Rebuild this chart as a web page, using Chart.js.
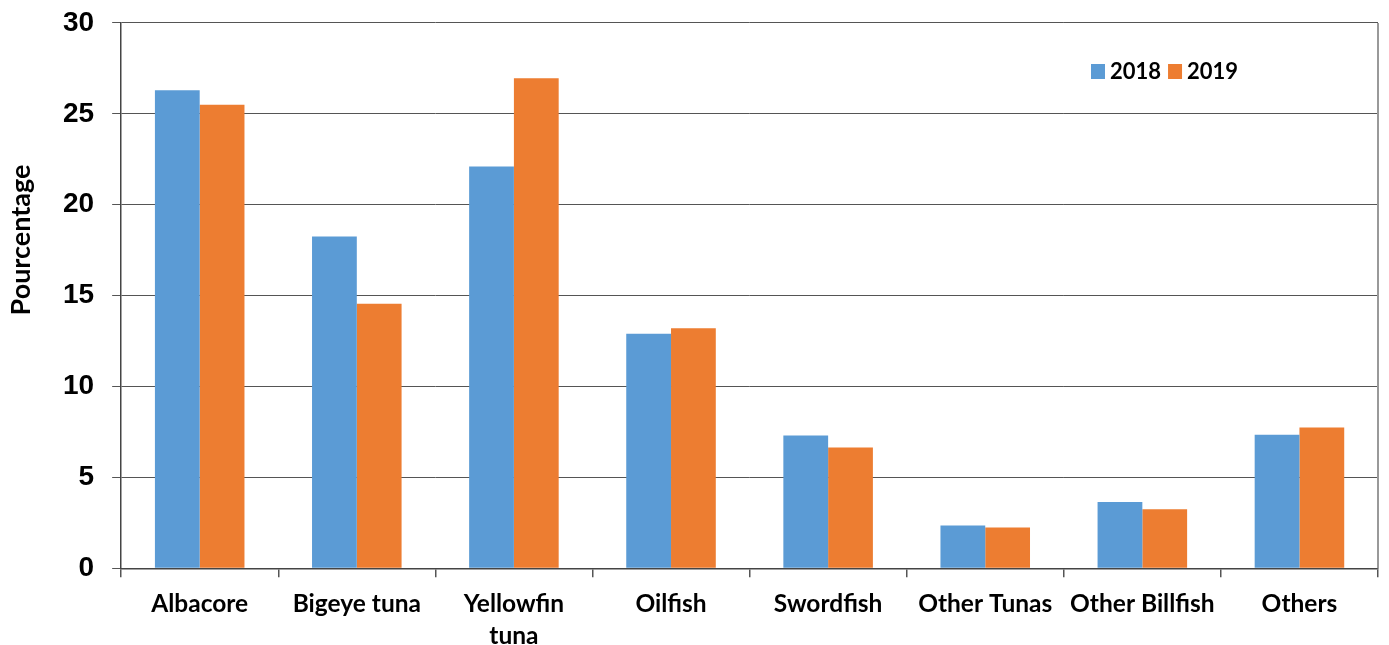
<!DOCTYPE html>
<html><head><meta charset="utf-8">
<script src="https://cdn.jsdelivr.net/npm/chart.js@4"></script>
<style>html,body{margin:0;padding:0;background:#fff}#wrap{width:1389px;height:645px}</style>
</head><body><div id="wrap"><canvas id="c"></canvas></div>
<script>
const categories = ["Albacore", "Bigeye tuna", ["Yellowfin", "tuna"], "Oilfish", "Swordfish", "Other Tunas", "Other Billfish", "Others"];
const values2018 = [26.3, 18.25, 22.1, 12.9, 7.3, 2.35, 3.65, 7.35];
const values2019 = [25.5, 14.55, 26.95, 13.2, 6.65, 2.25, 3.25, 7.75];
const seriesLabels = ["2018", "2019"];
const seriesColors = ["#5B9BD5", "#ED7D31"];
const yTicks = [0, 5, 10, 15, 20, 25, 30];
const yTitle = "Pourcentage";

const extrasPlugin = {
  id: 'extras',
  afterDraw(chart) {
    const ctx = chart.ctx;
    const area = chart.chartArea;
    ctx.save();
    ctx.strokeStyle = '#999';
    ctx.lineWidth = 2;
    ctx.beginPath();
    ctx.moveTo(area.right, area.top);
    ctx.lineTo(area.right, area.bottom);
    ctx.stroke();
    ctx.save();
    ctx.translate(21, 240);
    ctx.rotate(-Math.PI / 2);
    ctx.font = 'bold 27px Lato';
    ctx.fillStyle = '#000';
    ctx.textAlign = 'center';
    ctx.textBaseline = 'middle';
    ctx.fillText(yTitle, 0, 0);
    ctx.restore();
    ctx.font = 'bold 22px Lato';
    ctx.textBaseline = 'middle';
    ctx.textAlign = 'left';
    let x = 1091; const y = 71;
    chart.data.datasets.forEach(ds => {
      ctx.fillStyle = ds.backgroundColor;
      ctx.fillRect(x, y - 7, 14, 15);
      x += 19;
      ctx.fillStyle = '#000';
      ctx.fillText(ds.label, x, y + 1);
      x += ctx.measureText(ds.label).width + 7;
    });
    ctx.restore();
  }
};

new Chart(document.getElementById('c'), {
  type: 'bar',
  data: {
    labels: categories,
    datasets: [
      { label: seriesLabels[0], data: values2018, backgroundColor: seriesColors[0] },
      { label: seriesLabels[1], data: values2019, backgroundColor: seriesColors[1] }
    ]
  },
  options: {
    responsive: true, maintainAspectRatio: false, animation: false,
    layout: { padding: { top: 0, right: 11, left: 45, bottom: -18 } },
    plugins: { legend: { display: false }, tooltip: { enabled: false } },
    datasets: { bar: { categoryPercentage: 0.57, barPercentage: 1.0 } },
    scales: {
      x: {
        offset: true,
        grid: { display: true, drawOnChartArea: false, offset: true, tickLength: 9, color: '#555', lineWidth: 1.5 },
        border: { color: '#444', width: 1.5 },
        ticks: { color: '#000', font: { family: 'Lato', size: 24.5, weight: 'bold', lineHeight: 1.3 }, padding: 11, maxRotation: 0, autoSkip: false }
      },
      y: {
        min: 0, max: 30,
        afterBuildTicks(axis) { axis.ticks = yTicks.map(v => ({ value: v })); },
        grid: { color: '#555', lineWidth: 1, tickLength: 9 },
        border: { color: '#444', width: 1.5 },
        ticks: { color: '#000', font: { family: 'Liberation Sans', size: 28, weight: 'bold', lineHeight: 0.35 }, padding: 18 },
        title: { display: false }
      }
    }
  },
  plugins: [extrasPlugin]
});
</script></body></html>
